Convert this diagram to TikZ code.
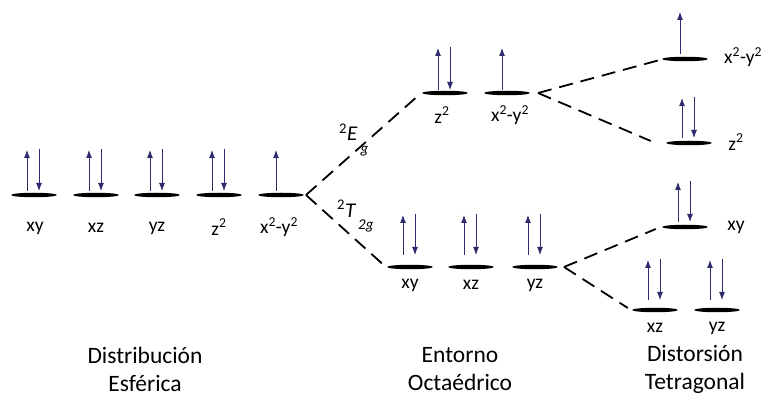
\documentclass[tikz,border=0pt]{standalone}
\usepackage{fontspec}
\setmainfont{Carlito}
\usetikzlibrary{arrows.meta,shapes.geometric,calc}
\definecolor{spin}{RGB}{45,42,110}
\newcommand\spinpair[3]{%
  \draw[spinarr] ($(#1)+(-7,-#3)$) -- ($(#1)+(-7,-#2)$);
  \draw[spinarr] ($(#1)+(5,-#2-1)$) -- ($(#1)+(5,-#3)$);}
\newcommand\spinone[3]{%
  \draw[spinarr] ($(#1)+(-5,-#3)$) -- ($(#1)+(-5,-#2)$);}
\begin{document}
\begin{tikzpicture}[x=1pt,y=-1pt,
  lvl/.style={ellipse,fill=black,minimum width=46pt,minimum height=4.5pt,inner sep=0pt},
  lab/.style={font=\fontsize{19.5}{20}\selectfont,inner sep=0pt},
  capt/.style={font=\fontsize{23.5}{28}\selectfont,align=center,inner sep=0pt},
  spinarr/.style={spin,line width=0.9pt,-{Latex[length=8pt,width=6pt]}},
  split/.style={dash pattern=on 14pt off 8pt,line width=1.8pt}]
\useasboundingbox (0,0) rectangle (766,419);
% spherical
\node[lvl] (s1) at (34,195) {};
\node[lvl] (s2) at (96,195) {};
\node[lvl] (s3) at (157,195) {};
\node[lvl] (s4) at (219,195) {};
\node[lvl] (s5) at (281,195) {};
\node[lab] at (35,228) {xy};
\node[lab] at (96,228) {xz};
\node[lab] at (157,228) {yz};
\node[lab] at (219,227) {z\textsuperscript{2}};
\node[lab] at (279,227) {x\textsuperscript{2}-y\textsuperscript{2}};
\spinpair{s1}{45}{4}
\spinpair{s2}{45}{4}
\spinpair{s3}{45}{4}
\spinpair{s4}{45}{4}
\spinone{s5}{45}{4}
% octahedral
\node[lvl] (eg1) at (445,93) {};
\node[lvl] (eg2) at (507,93) {};
\node[lab] at (442,115) {z\textsuperscript{2}};
\node[lab] at (510,115) {x\textsuperscript{2}-y\textsuperscript{2}};
\spinpair{eg1}{45}{3}
\spinone{eg2}{45}{3}
\node[lvl] (t1) at (410,267) {};
\node[lvl] (t2) at (471,267) {};
\node[lvl] (t3) at (535,267) {};
\node[lab] at (410,285) {xy};
\node[lab] at (471,285) {xz};
\node[lab] at (535,285) {yz};
\spinpair{t1}{52}{12}
\spinpair{t2}{52}{12}
\spinpair{t3}{52}{12}
% tetragonal
\node[lvl] (a1) at (685,59) {};
\node[lvl] (a2) at (689,143) {};
\node[lvl] (b1) at (685,227) {};
\node[lvl] (b2) at (655,310) {};
\node[lvl] (b3) at (717,310) {};
\node[lab,anchor=west] at (724,57) {x\textsuperscript{2}-y\textsuperscript{2}};
\node[lab] at (736,142) {z\textsuperscript{2}};
\node[lab] at (736,227) {xy};
\node[lab] at (655,328) {xz};
\node[lab] at (717,328) {yz};
\spinone{a1}{47}{5}
\spinpair{a2}{45}{5}
\spinpair{b1}{45}{5}
\spinpair{b2}{50}{10}
\spinpair{b3}{50}{10}
% splitting lines
\coordinate (o1) at (306,195);
\coordinate (o2) at (538,93);
\coordinate (o3) at (564,267);
\draw[split] (o1) -- ($(eg1.west)+(-4,3)$);
\draw[split] (o1) -- ($(t1.west)+(-2,-1)$);
\draw[split] (o2) -- ($(a1.west)+(-2,1)$);
\draw[split] (o2) -- ($(a2.west)+(-15,-2)$);
\draw[split] (o3) -- ($(b1.west)+(-6,2)$);
\draw[split] (o3) -- ($(b2.west)+(-4,-2)$);
% term symbols
\node[lab,anchor=west,font=\fontsize{21}{22}\selectfont] at (339,140) {\textsuperscript{2}\textit{E}\kern3pt\raisebox{-1.3ex}{\fontsize{15}{15}\selectfont\textit{g}}};
\node[lab,anchor=west,font=\fontsize{21}{22}\selectfont] at (337,216) {\textsuperscript{2}\textit{T}\kern2pt\raisebox{-1.2ex}{\fontsize{15}{15}\selectfont\textit{2g}}};
% captions
\node[capt] at (145,369) {Distribución\\Esférica};
\node[capt] at (460,369) {Entorno\\Octaédrico};
\node[capt] at (695,369) {Distorsión\\Tetragonal};
\end{tikzpicture}
\end{document}
